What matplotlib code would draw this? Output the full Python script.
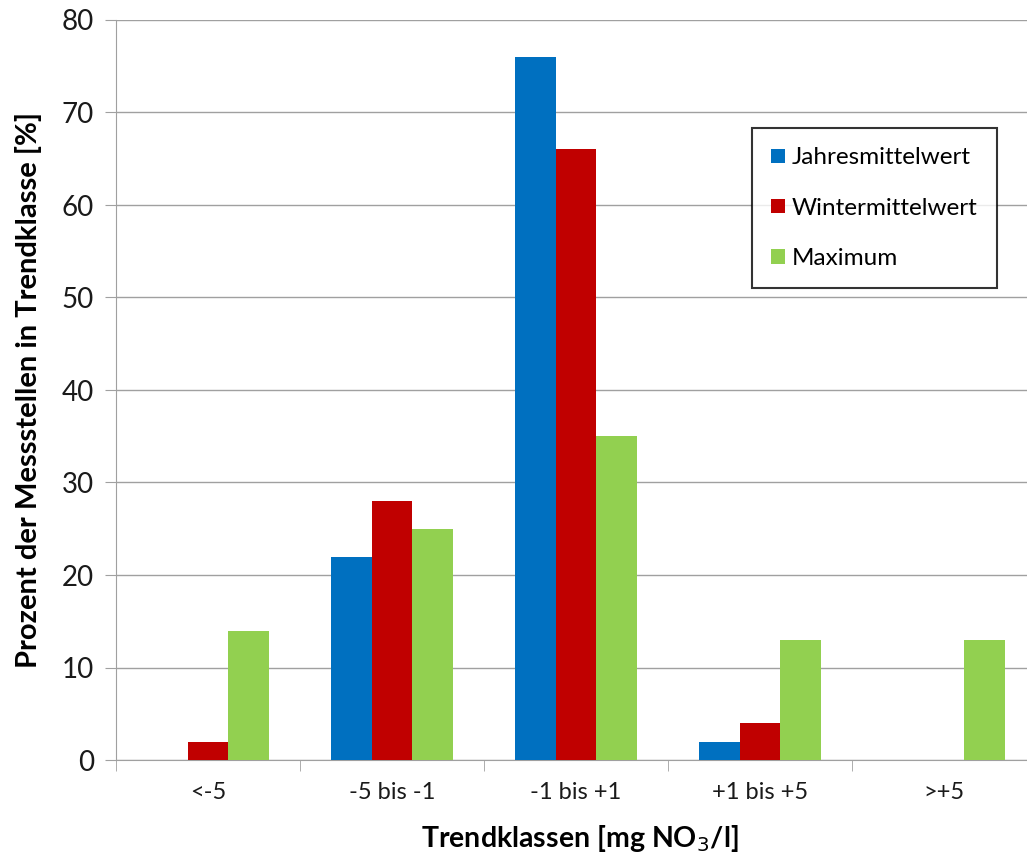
import numpy as np
import matplotlib.pyplot as plt

plt.rcParams['font.family'] = ['Lato', 'DejaVu Sans']

categories = ["<-5", "-5 bis -1", "-1 bis +1", "+1 bis +5", ">+5"]
jahresmittel = [0, 22, 76, 2, 0]
wintermittel = [2, 28, 66, 4, 0]
maximum = [14, 25, 35, 13, 13]

series = [
    ("Jahresmittelwert", jahresmittel, "#0070c0"),
    ("Wintermittelwert", wintermittel, "#c00000"),
    ("Maximum", maximum, "#92d050"),
]

fig = plt.figure(figsize=(10.27, 8.55), dpi=100)
ax = fig.add_axes([116 / 1027, 95 / 855, 920 / 1027, 740 / 855])

x = np.arange(len(categories))
w = 0.222
for i, (name, vals, col) in enumerate(series):
    ax.bar(x + (i - 1) * w, vals, width=w, color=col, label=name, zorder=3)

ax.set_xlim(-0.5, len(categories) - 0.5)
ax.set_ylim(0, 80)
ax.set_yticks(range(0, 81, 10))
ax.set_xticks(x)
ax.set_xticklabels(categories)
ax.set_xticks(np.arange(-0.5, len(categories), 1), minor=True)
ax.tick_params(axis='x', which='major', length=0, pad=16, labelsize=17, colors='#1a1a1a')
ax.tick_params(axis='x', which='minor', length=8, color='#a0a0a0', direction='out')
ax.tick_params(axis='y', length=8, color='#a0a0a0', labelsize=20, labelcolor='#1a1a1a', pad=8)

ax.grid(axis='y', color='#a0a0a0', linewidth=1, zorder=0)
for s in ['top', 'right']:
    ax.spines[s].set_visible(False)
for s in ['left', 'bottom']:
    ax.spines[s].set_color('#a0a0a0')

ax.set_ylabel("Prozent der Messstellen in Trendklasse [%]", fontsize=21, fontweight='bold')
ax.yaxis.set_label_coords((42 - 116) / 920, 0.5)
ax.set_xlabel("Trendklassen [mg NO$_3$/l]", fontsize=20.5, fontweight='bold')
ax.xaxis.set_label_coords((580 - 116) / 920, -0.085)

leg = ax.legend(loc='upper left', bbox_to_anchor=((752 - 116) / 920, (760 - 128) / 740),
                fontsize=17.5, frameon=True, fancybox=False, edgecolor='black',
                handlelength=0.55, handleheight=0.55, handletextpad=0.3,
                labelspacing=1.2, borderpad=0.8, borderaxespad=0)
leg.get_frame().set_linewidth(1.5)

fig.savefig("out.png", dpi=100)
